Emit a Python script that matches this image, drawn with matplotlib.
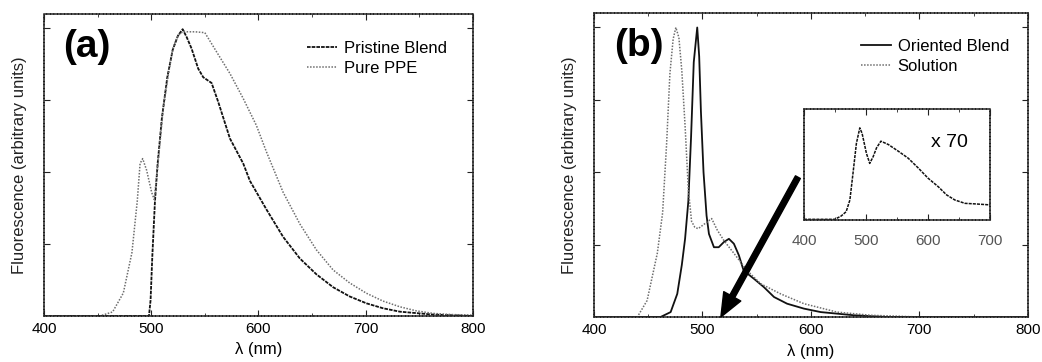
import numpy as np
import matplotlib
matplotlib.use("Agg")
import matplotlib.pyplot as plt
from matplotlib.ticker import MultipleLocator

plt.rcParams['font.family'] = ['Liberation Sans', 'DejaVu Sans']

# ---- data ----
a_ppe_x = [400, 452, 464, 474, 482, 487, 489.6, 492, 495.7, 500.4, 502.8, 506.6, 511, 516, 520.5,
           525, 530, 533.6, 541, 550, 561, 573.4, 585.8, 598, 607.5, 623, 638.6, 654, 669.6, 685,
           700.7, 716, 731.8, 747, 762.8, 780, 800]
a_ppe_y = [0, 0, 0.014, 0.08, 0.22, 0.40, 0.53, 0.547, 0.507, 0.43, 0.405, 0.54, 0.715, 0.84, 0.935,
           0.975, 0.99, 0.988, 0.988, 0.985, 0.918, 0.843, 0.756, 0.663, 0.57, 0.43, 0.32, 0.23,
           0.16, 0.115, 0.079, 0.052, 0.032, 0.018, 0.009, 0.005, 0.003]

a_blend_x = [400, 497.9, 499.4, 501, 503.5, 506, 510, 515, 520, 525, 529.3, 533, 537.6, 543.8, 548.5,
             556.3, 562.5, 573.4, 585.8, 592, 607.5, 623, 638.6, 654, 669.6, 685, 700.7, 716, 731.8,
             762.8, 800]
a_blend_y = [0, 0, 0.055, 0.206, 0.40, 0.53, 0.69, 0.83, 0.925, 0.975, 0.997, 0.97, 0.93, 0.86, 0.83,
             0.81, 0.744, 0.617, 0.53, 0.47, 0.37, 0.275, 0.20, 0.145, 0.10, 0.068, 0.044, 0.027,
             0.015, 0.005, 0.0]

b_sol_x = [400, 440, 449, 458.4, 463.3, 467, 470, 473, 475.5, 478.3, 481, 484, 487, 490, 493,
           496, 501.4, 508.5, 513.7, 519.8, 529, 541.3, 553.6, 572, 593.5, 624, 655, 701, 800]
b_sol_y = [0, 0, 0.057, 0.22, 0.36, 0.60, 0.84, 0.96, 1.0, 0.965, 0.85, 0.66, 0.44, 0.33, 0.31,
           0.305, 0.32, 0.34, 0.30, 0.264, 0.22, 0.16, 0.115, 0.08, 0.046, 0.017, 0.006, 0, 0]

b_ori_x = [400, 461.4, 470.7, 476.8, 481, 484, 487, 489.5, 492, 495.2, 497, 498.6, 501, 503.8, 506,
           510.6, 515, 519.8, 524.4, 529, 533.6, 538, 547.5, 556.7, 566, 578, 593.5, 609, 639.6,
           670, 800]
b_ori_y = [0, 0, 0.017, 0.08, 0.18, 0.27, 0.40, 0.62, 0.88, 1.0, 0.9, 0.71, 0.50, 0.35, 0.287,
           0.241, 0.241, 0.259, 0.27, 0.253, 0.213, 0.16, 0.132, 0.103, 0.069, 0.046, 0.029, 0.017,
           0.006, 0, 0]

inset_x = [400, 449.5, 460, 468, 474, 479, 484.5, 490, 493.7, 500.7, 506, 511.5, 517, 524, 536, 552,
           568, 584, 600, 616.5, 630, 643.4, 659.6, 676, 700]
inset_y = [0.006, 0.006, 0.036, 0.075, 0.18, 0.42, 0.69, 0.83, 0.78, 0.60, 0.51, 0.57, 0.65, 0.71,
           0.68, 0.62, 0.557, 0.47, 0.377, 0.30, 0.226, 0.18, 0.15, 0.145, 0.136]

x_ticks = [400, 500, 600, 700, 800]
inset_ticks = [400, 500, 600, 700]

# ---- figure ----
fig = plt.figure(figsize=(10.42, 3.62), dpi=100)
ax_a = fig.add_axes([0.0422, 0.1271, 0.4117, 0.8343])
ax_b = fig.add_axes([0.5700, 0.1243, 0.4165, 0.8398])

dark = '#111111'
light = '#6e6e6e'
frame_c = '#222222'


def style(ax, fs=10.5):
    for s in ax.spines.values():
        s.set_linestyle((0, (1.5, 0.8)))
        s.set_color(frame_c)
        s.set_linewidth(1.1)
    ax.tick_params(which='both', direction='in', top=True, right=True,
                   color=frame_c, labelsize=fs, pad=4)
    ax.tick_params(which='major', length=4)
    ax.tick_params(which='minor', length=2)


for ax in (ax_a, ax_b):
    ax.set_xlim(400, 800)
    ax.set_ylim(0, 1.05)
    ax.set_xticks(x_ticks)
    ax.xaxis.set_minor_locator(MultipleLocator(50))
    ax.set_yticks([0.25, 0.5, 0.75, 1.0])
    ax.set_yticklabels([])
    style(ax, fs=11)
    ax.set_xlabel('λ (nm)', fontsize=12, labelpad=5)
    ax.set_ylabel('Fluorescence (arbitrary units)', fontsize=12, labelpad=8, color='#222222')

leg_kw = dict(loc='upper left', frameon=False, fontsize=12, handlelength=1.8,
              handletextpad=0.4, labelspacing=0.3, borderpad=0, borderaxespad=0)

# panel (a)
ax_a.plot(a_blend_x, a_blend_y, color=dark, lw=1.3, ls=(0, (2, 0.6)), label='Pristine Blend')
ax_a.plot(a_ppe_x, a_ppe_y, color=light, lw=1.1, ls=(0, (1, 1)), label='Pure PPE')
ax_a.text(0.044, 0.89, '(a)', transform=ax_a.transAxes, fontsize=28, fontweight='bold',
          va='center', ha='left')
ax_a.legend(bbox_to_anchor=(0.613, 0.91), **leg_kw)

# panel (b)
ax_b.plot(b_ori_x, b_ori_y, color=dark, lw=1.3, label='Oriented Blend')
ax_b.plot(b_sol_x, b_sol_y, color=light, lw=1.1, ls=(0, (1, 1)), label='Solution')
ax_b.text(0.046, 0.89, '(b)', transform=ax_b.transAxes, fontsize=28, fontweight='bold',
          va='center', ha='left')
ax_b.legend(bbox_to_anchor=(0.615, 0.914), **leg_kw)
ax_b.annotate('', xy=(517, 0.0), xytext=(588, 0.483),
              arrowprops=dict(facecolor='black', edgecolor='black', width=4,
                              headwidth=14, headlength=17, shrink=0))

# inset
ax_in = fig.add_axes([0.7716, 0.3923, 0.1785, 0.3066])
ax_in.plot(inset_x, inset_y, color=dark, lw=1.1, ls=(0, (2, 0.7)))
ax_in.set_xlim(400, 700)
ax_in.set_ylim(0, 1.0)
ax_in.set_xticks(inset_ticks)
ax_in.xaxis.set_minor_locator(MultipleLocator(50))
ax_in.set_yticks([])
style(ax_in, fs=11)
ax_in.tick_params(axis='x', pad=10, labelcolor='#555555')
ax_in.tick_params(which='both', left=False, right=False)
ax_in.text(0.78, 0.70, 'x 70', transform=ax_in.transAxes, fontsize=14, ha='center', va='center')

fig.savefig('out.png', dpi=100)
